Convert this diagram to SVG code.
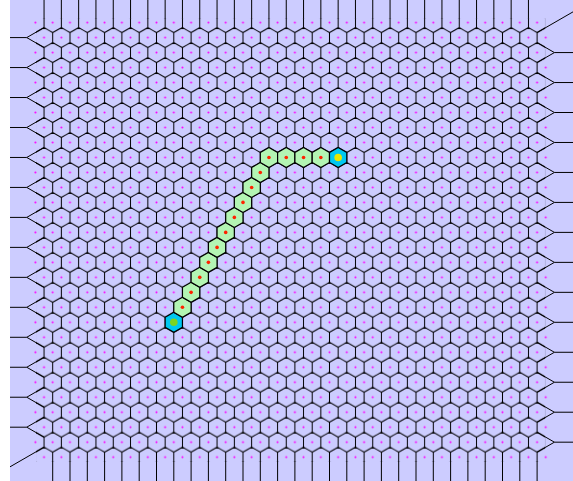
<svg xmlns="http://www.w3.org/2000/svg" xmlns:xlink="http://www.w3.org/1999/xlink" width="573" height="481" viewBox="0 0 573 481">
<style>
.edge{fill:none;stroke:#000;stroke-width:1}
.site{fill:#ff00ff}
.pathcell{fill:#b3f5b3;stroke:#000;stroke-width:1.2}
.endcell{fill:#00c8f0;stroke:#000;stroke-width:1.2}
.pdot{fill:#ff2200}
</style>
<defs>
<pattern id="hexlines" patternUnits="userSpaceOnUse" x="31.075" y="15.1075" width="17.3" height="29.97">
<path class="edge" d="M4.325 -2.4975l8.65 4.995v9.99l-8.65 4.995-8.65-4.995v-9.99zM21.625 -2.4975l8.65 4.995v9.99l-8.65 4.995-8.65-4.995v-9.99zM4.325 27.4725l8.65 4.995v9.99l-8.65 4.995-8.65-4.995v-9.99zM21.625 27.4725l8.65 4.995v9.99l-8.65 4.995-8.65-4.995v-9.99zM12.975 12.4875l8.65 4.995v9.99l-8.65 4.995-8.65-4.995v-9.99zM-4.325 12.4875l8.65 4.995v9.99l-8.65 4.995-8.65-4.995v-9.99zM12.975 -17.4825l8.65 4.995v9.99l-8.65 4.995-8.65-4.995v-9.99zM-4.325 -17.4825l8.65 4.995v9.99l-8.65 4.995-8.65-4.995v-9.99z"/>
</pattern>
<pattern id="hexsites" patternUnits="userSpaceOnUse" x="31.075" y="15.1075" width="17.3" height="29.97">
<circle class="site" cx="4.325" cy="7.4925" r="1"/>
<circle class="site" cx="12.975" cy="22.4775" r="1"/>
</pattern>
<polygon id="hex" points="0,-9.99 8.65,-4.995 8.65,4.995 0,9.99 -8.65,4.995 -8.65,-4.995"/>
</defs>
<rect id="background" x="10" y="0" width="563" height="481" fill="#ccccff"/>
<g id="connectors">
<rect id="lattice" x="36" y="18.2" width="509.15" height="443.36" fill="url(#hexlines)"/>
<path id="top-edges" class="edge" d="M44.05 0V18.6M61.35 0V18.6M78.65 0V18.6M95.95 0V18.6M113.25 0V18.6M130.55 0V18.6M147.85 0V18.6M165.15 0V18.6M182.45 0V18.6M199.75 0V18.6M217.05 0V18.6M234.35 0V18.6M251.65 0V18.6M268.95 0V18.6M286.25 0V18.6M303.55 0V18.6M320.85 0V18.6M338.15 0V18.6M355.45 0V18.6M372.75 0V18.6M390.05 0V18.6M407.35 0V18.6M424.65 0V18.6M441.95 0V18.6M459.25 0V18.6M476.55 0V18.6M493.85 0V18.6M511.15 0V18.6M528.45 0V18.6"/>
<path id="bottom-edges" class="edge" d="M52.7 461.1V481M70 461.1V481M87.3 461.1V481M104.6 461.1V481M121.9 461.1V481M139.2 461.1V481M156.5 461.1V481M173.8 461.1V481M191.1 461.1V481M208.4 461.1V481M225.7 461.1V481M243 461.1V481M260.3 461.1V481M277.6 461.1V481M294.9 461.1V481M312.2 461.1V481M329.5 461.1V481M346.8 461.1V481M364.1 461.1V481M381.4 461.1V481M398.7 461.1V481M416 461.1V481M433.3 461.1V481M450.6 461.1V481M467.9 461.1V481M485.2 461.1V481M502.5 461.1V481M519.8 461.1V481M537.1 461.1V481"/>
<path id="left-edges" class="edge" d="M44.05 27.595l-17.3 9.99 17.3 9.99M10 37.585h16.75M44.05 57.565l-17.3 9.99 17.3 9.99M10 67.555h16.75M44.05 87.535l-17.3 9.99 17.3 9.99M10 97.525h16.75M44.05 117.505l-17.3 9.99 17.3 9.99M10 127.495h16.75M44.05 147.475l-17.3 9.99 17.3 9.99M10 157.465h16.75M44.05 177.445l-17.3 9.99 17.3 9.99M10 187.435h16.75M44.05 207.415l-17.3 9.99 17.3 9.99M10 217.405h16.75M44.05 237.385l-17.3 9.99 17.3 9.99M10 247.375h16.75M44.05 267.355l-17.3 9.99 17.3 9.99M10 277.345h16.75M44.05 297.325l-17.3 9.99 17.3 9.99M10 307.315h16.75M44.05 327.295l-17.3 9.99 17.3 9.99M10 337.285h16.75M44.05 357.265l-17.3 9.99 17.3 9.99M10 367.255h16.75M44.05 387.235l-17.3 9.99 17.3 9.99M10 397.225h16.75M44.05 417.205l-17.3 9.99 17.3 9.99M10 427.195h16.75M44.05 447.175L10 466.84"/>
<path id="right-edges" class="edge" d="M537.1 32.59L573 11.86M537.1 42.58l17.3 9.99-17.3 9.99M554.4 52.57H573M537.1 72.55l17.3 9.99-17.3 9.99M554.4 82.54H573M537.1 102.52l17.3 9.99-17.3 9.99M554.4 112.51H573M537.1 132.49l17.3 9.99-17.3 9.99M554.4 142.48H573M537.1 162.46l17.3 9.99-17.3 9.99M554.4 172.45H573M537.1 192.43l17.3 9.99-17.3 9.99M554.4 202.42H573M537.1 222.4l17.3 9.99-17.3 9.99M554.4 232.39H573M537.1 252.37l17.3 9.99-17.3 9.99M554.4 262.36H573M537.1 282.34l17.3 9.99-17.3 9.99M554.4 292.33H573M537.1 312.31l17.3 9.99-17.3 9.99M554.4 322.3H573M537.1 342.28l17.3 9.99-17.3 9.99M554.4 352.27H573M537.1 372.25l17.3 9.99-17.3 9.99M554.4 382.24H573M537.1 402.22l17.3 9.99-17.3 9.99M554.4 412.21H573M537.1 432.19l17.3 9.99-17.3 9.99M554.4 442.18H573"/>
</g>
<rect id="sites" x="31.075" y="15.1075" width="519" height="449.55" fill="url(#hexsites)"/>
<g id="path">
<g id="cell-start"><use xlink:href="#hex" class="endcell" x="173.8" y="322.3"/><circle cx="173.8" cy="322.3" r="3.8" fill="#7ed321"/></g>
<g id="cell-r19"><use xlink:href="#hex" class="pathcell" x="182.45" y="307.315"/><circle class="pdot" cx="182.45" cy="307.315" r="1.8"/></g>
<g id="cell-r18"><use xlink:href="#hex" class="pathcell" x="191.1" y="292.33"/><circle class="pdot" cx="191.1" cy="292.33" r="1.8"/></g>
<g id="cell-r17"><use xlink:href="#hex" class="pathcell" x="199.75" y="277.345"/><circle class="pdot" cx="199.75" cy="277.345" r="1.8"/></g>
<g id="cell-r16"><use xlink:href="#hex" class="pathcell" x="208.4" y="262.36"/><circle class="pdot" cx="208.4" cy="262.36" r="1.8"/></g>
<g id="cell-r15"><use xlink:href="#hex" class="pathcell" x="217.05" y="247.375"/><circle class="pdot" cx="217.05" cy="247.375" r="1.8"/></g>
<g id="cell-r14"><use xlink:href="#hex" class="pathcell" x="225.7" y="232.39"/><circle class="pdot" cx="225.7" cy="232.39" r="1.8"/></g>
<g id="cell-r13"><use xlink:href="#hex" class="pathcell" x="234.35" y="217.405"/><circle class="pdot" cx="234.35" cy="217.405" r="1.8"/></g>
<g id="cell-r12"><use xlink:href="#hex" class="pathcell" x="243" y="202.42"/><circle class="pdot" cx="243" cy="202.42" r="1.8"/></g>
<g id="cell-r11"><use xlink:href="#hex" class="pathcell" x="251.65" y="187.435"/><circle class="pdot" cx="251.65" cy="187.435" r="1.8"/></g>
<g id="cell-r10"><use xlink:href="#hex" class="pathcell" x="260.3" y="172.45"/><circle class="pdot" cx="260.3" cy="172.45" r="1.8"/></g>
<g id="cell-r9a"><use xlink:href="#hex" class="pathcell" x="268.95" y="157.465"/><circle class="pdot" cx="268.95" cy="157.465" r="1.8"/></g>
<g id="cell-r9b"><use xlink:href="#hex" class="pathcell" x="286.25" y="157.465"/><circle class="pdot" cx="286.25" cy="157.465" r="1.8"/></g>
<g id="cell-r9c"><use xlink:href="#hex" class="pathcell" x="303.55" y="157.465"/><circle class="pdot" cx="303.55" cy="157.465" r="1.8"/></g>
<g id="cell-r9d"><use xlink:href="#hex" class="pathcell" x="320.85" y="157.465"/><circle class="pdot" cx="320.85" cy="157.465" r="1.8"/></g>
<g id="cell-end"><use xlink:href="#hex" class="endcell" x="338.15" y="157.465"/><circle cx="338.15" cy="157.465" r="3.8" fill="#e6e600"/></g>
</g>
</svg>
